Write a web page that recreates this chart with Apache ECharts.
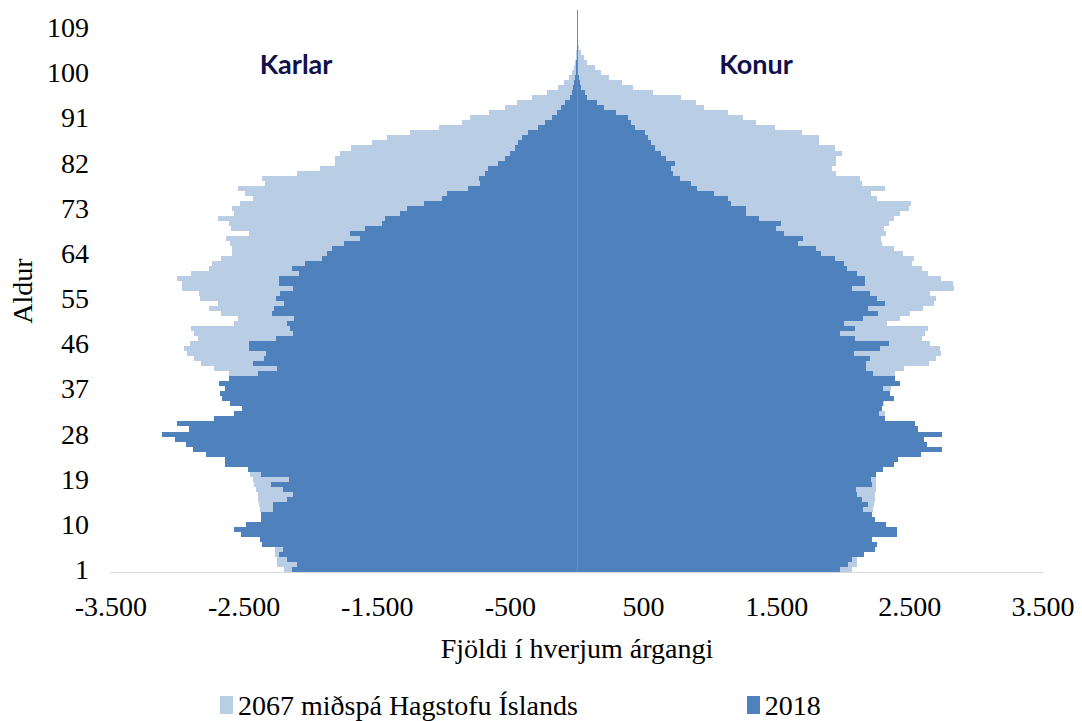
<!DOCTYPE html>
<html>
<head>
<meta charset="utf-8">
<script src="https://cdn.jsdelivr.net/npm/echarts@6/dist/echarts.min.js"></script>
<style>html,body{margin:0;padding:0;background:#fff}#c{width:1082px;height:721px}
#c svg path{shape-rendering:crispEdges}</style>
</head>
<body>
<div id="c"></div>
<script>
// Ages 1..112
const ages = Array.from({length:112},(_,i)=>String(i+1));
const xTicks = [-3500,-2500,-1500,-500,500,1500,2500,3500];
const seriesNames = ['2067 miðspá Hagstofu Íslands','2018'];
const sideLabels = ['Karlar','Konur'];

// Men (negative), 2018
const men2018 = [-2137,-2100,-2180,-2237,-2207,-2362,-2382,-2524,-2574,-2482,
-2375,-2375,-2283,-2283,-2180,-2130,-2207,-2299,-2162,-2375,
-2470,-2644,-2644,-2786,-2881,-2936,-3016,-3118,-2911,-3004,
-2724,-2579,-2512,-2607,-2662,-2679,-2642,-2687,-2612,-2392,
-2250,-2432,-2350,-2337,-2462,-2462,-2262,-2132,-2157,-2175,
-2125,-2287,-2275,-2200,-2262,-2230,-2130,-2237,-2237,-2088,
-2142,-2043,-1918,-1880,-1843,-1750,-1626,-1706,-1594,-1464,
-1444,-1326,-1277,-1152,-1014,-977,-820,-727,-732,-690,
-665,-590,-540,-503,-465,-440,-415,-366,-291,-241,
-191,-153,-121,-86,-54,-36,-26,-21,-15,-10,
-6,-4,-2,-1,-1,0,0,0,0,0,0,0];

// Men (negative), 2067 forecast
const men2067 = [-2200,-2249,-2249,-2267,-2267,-2280,-2290,-2300,-2310,-2330,
-2350,-2370,-2382,-2387,-2392,-2399,-2412,-2424,-2436,-2454,
-2460,-2470,-2480,-2490,-2500,-2510,-2520,-2530,-2540,-2550,
-2560,-2570,-2500,-2580,-2590,-2600,-2610,-2620,-2600,-2612,
-2724,-2824,-2874,-2929,-2949,-2906,-2849,-2874,-2899,-2579,
-2542,-2674,-2762,-2692,-2829,-2836,-2966,-2966,-3004,-2899,
-2766,-2742,-2674,-2592,-2587,-2604,-2637,-2462,-2599,-2616,
-2696,-2579,-2592,-2532,-2432,-2492,-2549,-2342,-2362,-2100,
-1933,-1818,-1818,-1776,-1696,-1539,-1426,-1252,-1035,-865,
-802,-660,-540,-448,-341,-228,-146,-98,-61,-36,
-21,-12,-8,-5,-3,-2,-1,-1,0,0,0,0];

// Women, 2018
const women2018 = [1975,2038,2063,2155,2242,2255,2217,2404,2404,2324,
2235,2217,2147,2187,2142,2100,2092,2217,2212,2247,
2300,2379,2412,2584,2741,2629,2604,2741,2562,2542,
2317,2267,2292,2300,2384,2349,2300,2429,2392,2222,
2167,2172,2200,2080,2275,2342,2087,1973,2087,2005,
2150,2262,2187,2317,2250,2200,2063,2160,2160,2105,
2025,2005,1935,1835,1793,1663,1694,1556,1494,1536,
1369,1269,1269,1157,1132,1027,902,857,777,725,
703,740,670,633,588,558,533,513,438,408,
383,295,201,153,79,59,34,21,14,9,
6,4,2,1,1,0,0,0,0,0,0,0];

// Women, 2067 forecast
const women2067 = [2067,2100,2105,2120,2140,2150,2160,2170,2180,2190,
2200,2210,2225,2230,2235,2242,2249,2249,2249,2230,
2240,2250,2260,2270,2280,2280,2290,2290,2290,2300,
2300,2312,2280,2305,2330,2330,2360,2340,2350,2392,
2454,2647,2699,2734,2724,2649,2592,2617,2634,2330,
2429,2499,2597,2679,2696,2654,2829,2821,2737,2637,
2592,2517,2529,2449,2380,2292,2285,2322,2305,2342,
2380,2429,2497,2509,2255,2212,2312,2142,2125,1943,
1913,1943,1948,1993,1938,1818,1818,1693,1486,1344,
1244,1137,957,894,782,570,420,338,238,183,
134,79,54,34,14,10,6,4,2,1,1,0];

const LIGHT = '#B9CDE5', DARK = '#4F81BD';
const SERIF = '"Liberation Serif", "Times New Roman", serif';

const chart = echarts.init(document.getElementById('c'), null, {renderer:'svg'});
function barSeries(name, stack, data, color, extra){
  return Object.assign({
    name, type:'bar', stack, data,
    itemStyle:{color, borderWidth:0},
    barCategoryGap:'0%', barGap:'-100%'
  }, extra||{});
}
chart.setOption({
  animation:false,
  backgroundColor:'#fff',
  grid:{left:108, right:39, top:10, bottom:149, containLabel:false},
  legend:{
    data: seriesNames,
    left:215, top:686,
    itemWidth:13, itemHeight:18, itemGap:169, icon:'rect',
    itemStyle:{borderWidth:0},
    textStyle:{fontFamily:SERIF, fontSize:28, lineHeight:28, color:'#000'}
  },
  xAxis:{
    type:'value', min:xTicks[0], max:xTicks[xTicks.length-1], interval:1000,
    splitLine:{show:false},
    axisTick:{show:false},
    axisLine:{show:true, lineStyle:{color:'#d9d9d9', width:1}},
    axisLabel:{
      fontFamily:SERIF, fontSize:28, color:'#000', margin:20,
      formatter:v=>{ const s=Math.abs(v).toString().replace(/\B(?=(\d{3})+(?!\d))/g,'.'); return (v<0?'-':'')+s; }
    },
    name:'Fjöldi í hverjum árgangi', nameLocation:'middle', nameGap:62,
    nameTextStyle:{fontFamily:SERIF, fontSize:28, color:'#000'}
  },
  yAxis:{
    type:'category', data:ages,
    axisLine:{show:false, onZero:false},
    axisTick:{show:false},
    axisLabel:{interval:8, fontFamily:SERIF, fontSize:28, color:'#000', margin:22},
    name:'Aldur', nameLocation:'middle', nameGap:70, nameRotate:90,
    nameTextStyle:{fontFamily:SERIF, fontSize:28, color:'#000'}
  },
  series:[
    barSeries(seriesNames[0], 'f', men2067, LIGHT),
    barSeries(seriesNames[0], 'f', women2067, LIGHT),
    barSeries(seriesNames[1], 'c', men2018, DARK),
    barSeries(seriesNames[1], 'c', women2018, DARK, {
      markLine:{silent:true, symbol:'none', label:{show:false}, lineStyle:{color:'#868686', width:1, type:'solid'}, data:[{xAxis:0}]}
    })
  ],
  graphic:[
    {type:'text', x:296, y:63.5, style:{text:sideLabels[0], fontFamily:'Lato, "Open Sans", sans-serif', fontWeight:'bold', fontSize:27, fill:'#10104b', textAlign:'center', textVerticalAlign:'middle'}},
    {type:'text', x:756, y:63.5, style:{text:sideLabels[1], fontFamily:'Lato, "Open Sans", sans-serif', fontWeight:'bold', fontSize:27, fill:'#10104b', textAlign:'center', textVerticalAlign:'middle'}}
  ]
});
</script>
</body>
</html>
